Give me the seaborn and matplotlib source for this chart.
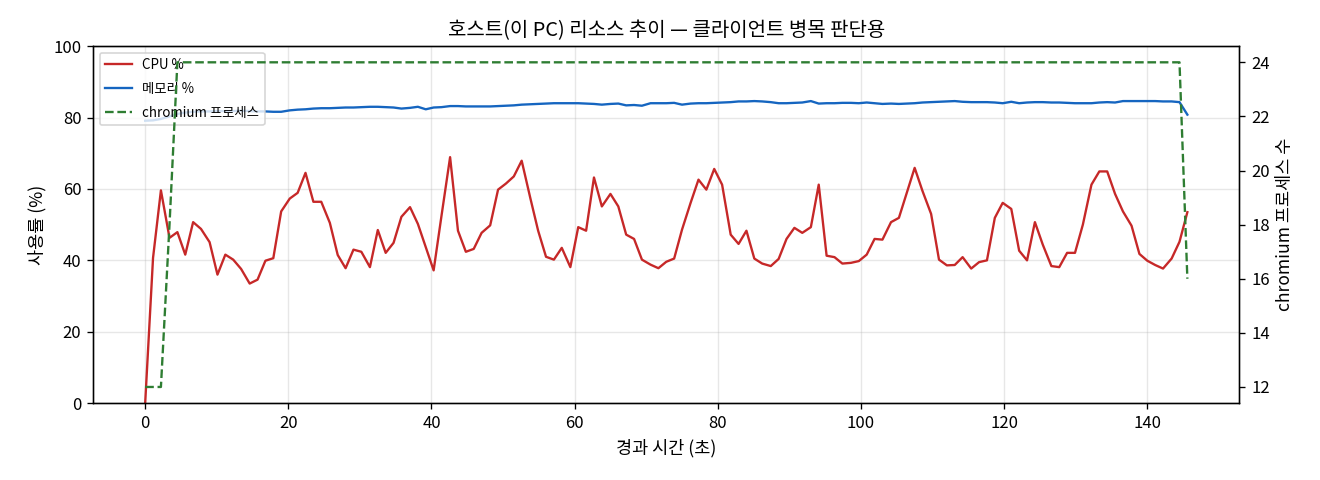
import numpy as np
import pandas as pd
import matplotlib
matplotlib.use("Agg")
import matplotlib.pyplot as plt
import seaborn as sns

# === Daten ===
elapsed_s = [
    0.0, 1.1, 2.2, 3.4, 4.5, 5.6, 6.7, 7.8, 9.0, 10.1,
    11.2, 12.3, 13.4, 14.6, 15.7, 16.8, 17.9, 19.0, 20.2, 21.3,
    22.4, 23.5, 24.6, 25.8, 26.9, 28.0, 29.1, 30.2, 31.4, 32.5,
    33.6, 34.7, 35.8, 37.0, 38.1, 39.2, 40.3, 41.4, 42.6, 43.7,
    44.8, 45.9, 47.0, 48.2, 49.3, 50.4, 51.5, 52.6, 53.8, 54.9,
    56.0, 57.1, 58.2, 59.4, 60.5, 61.6, 62.7, 63.8, 65.0, 66.1,
    67.2, 68.3, 69.4, 70.6, 71.7, 72.8, 73.9, 75.0, 76.2, 77.3,
    78.4, 79.5, 80.6, 81.8, 82.9, 84.0, 85.1, 86.2, 87.4, 88.5,
    89.6, 90.7, 91.8, 93.0, 94.1, 95.2, 96.3, 97.4, 98.6, 99.7,
    100.8, 101.9, 103.0, 104.2, 105.3, 106.4, 107.5, 108.6, 109.8, 110.9,
    112.0, 113.1, 114.2, 115.4, 116.5, 117.6, 118.7, 119.8, 121.0, 122.1,
    123.2, 124.3, 125.4, 126.6, 127.7, 128.8, 129.9, 131.0, 132.2, 133.3,
    134.4, 135.5, 136.6, 137.8, 138.9, 140.0, 141.1, 142.2, 143.4, 144.5,
    145.6,
]

cpu_pct = [
    0.0, 40.7, 59.6, 46.3, 47.9, 41.6, 50.7, 48.8, 45.1, 36.0,
    41.6, 40.2, 37.6, 33.5, 34.6, 39.9, 40.6, 53.7, 57.3, 58.9,
    64.5, 56.4, 56.4, 50.5, 41.5, 37.8, 43.0, 42.4, 38.1, 48.5,
    42.1, 44.9, 52.2, 54.9, 50.2, 43.7, 37.2, 52.5, 68.9, 48.3,
    42.4, 43.2, 47.7, 49.8, 59.8, 61.5, 63.5, 67.9, 57.5, 48.3,
    41.0, 40.2, 43.5, 38.1, 49.3, 48.3, 63.2, 55.1, 58.6, 55.1,
    47.2, 46.0, 40.2, 38.8, 37.8, 39.6, 40.5, 48.6, 56.1, 62.6,
    59.8, 65.6, 61.2, 47.2, 44.6, 48.3, 40.5, 39.1, 38.4, 40.4,
    46.0, 49.1, 47.7, 49.3, 61.2, 41.3, 40.9, 39.1, 39.3, 39.8,
    41.6, 46.0, 45.8, 50.7, 51.9, 58.9, 65.9, 59.4, 53.0, 40.2,
    38.6, 38.7, 40.9, 37.7, 39.5, 40.0, 51.9, 56.1, 54.4, 42.7,
    40.0, 50.7, 44.4, 38.4, 38.1, 42.1, 42.1, 50.0, 61.2, 64.9,
    64.9, 58.6, 53.7, 49.7, 41.8, 39.9, 38.7, 37.7, 40.5, 45.2,
    53.5,
]

mem_pct = [
    79.1, 79.2, 79.6, 80.3, 81.0, 81.4, 81.6, 81.7, 81.7, 81.8,
    81.8, 81.8, 81.9, 81.8, 81.7, 81.7, 81.6, 81.6, 82.0, 82.2,
    82.3, 82.5, 82.6, 82.6, 82.7, 82.8, 82.8, 82.9, 83.0, 83.0,
    82.9, 82.8, 82.5, 82.7, 83.0, 82.3, 82.8, 82.9, 83.2, 83.2,
    83.1, 83.1, 83.1, 83.1, 83.2, 83.3, 83.4, 83.6, 83.7, 83.8,
    83.9, 84.0, 84.0, 84.0, 84.0, 83.9, 83.8, 83.6, 83.8, 83.9,
    83.4, 83.5, 83.3, 84.0, 84.0, 84.0, 84.1, 83.6, 83.9, 84.0,
    84.0, 84.1, 84.2, 84.3, 84.5, 84.5, 84.6, 84.5, 84.3, 84.0,
    84.0, 84.1, 84.2, 84.6, 83.9, 84.0, 84.0, 84.1, 84.1, 84.0,
    84.2, 84.0, 83.8, 83.9, 83.8, 83.9, 84.0, 84.2, 84.3, 84.4,
    84.5, 84.6, 84.4, 84.3, 84.3, 84.3, 84.2, 84.0, 84.4, 84.0,
    84.2, 84.3, 84.3, 84.2, 84.2, 84.1, 84.0, 84.0, 84.0, 84.2,
    84.3, 84.2, 84.6, 84.6, 84.6, 84.6, 84.6, 84.5, 84.5, 84.3,
    80.8,
]

chromium_count = [12, 12, 12, 18] + [24] * 126 + [16]

df = pd.DataFrame({
    "t": elapsed_s,
    "cpu": cpu_pct,
    "mem": mem_pct,
    "proc": chromium_count,
})

# === Plot ===
plt.rcParams["font.family"] = ["Noto Sans CJK KR", "DejaVu Sans"]
plt.rcParams["axes.unicode_minus"] = False

fig, ax = plt.subplots(figsize=(11, 4), dpi=120)
sns.lineplot(data=df, x="t", y="cpu", ax=ax, color="#c62828", linewidth=1.4, label="CPU %")
sns.lineplot(data=df, x="t", y="mem", ax=ax, color="#1565c0", linewidth=1.4, label="메모리 %")
ax.set_ylim(0, 100)
ax.set_xlabel("경과 시간 (초)", fontsize=10.5)
ax.set_ylabel("사용률 (%)", fontsize=10.5)
ax.grid(True, alpha=0.3)
ax.set_title("호스트(이 PC) 리소스 추이 — 클라이언트 병목 판단용", fontsize=12)

ax2 = ax.twinx()
sns.lineplot(data=df, x="t", y="proc", ax=ax2, color="#2e7d32", linewidth=1.4,
             linestyle="--", label="chromium 프로세스")
ax2.set_ylabel("chromium 프로세스 수", fontsize=10.5)
ax2.set_yticks([12, 14, 16, 18, 20, 22, 24])

h1, l1 = ax.get_legend_handles_labels()
h2, l2 = ax2.get_legend_handles_labels()
ax2.get_legend().remove()
ax.legend(h1 + h2, l1 + l2, loc="upper left", fontsize=8, labelspacing=0.75)

plt.subplots_adjust(left=0.0705, right=0.939, top=0.904, bottom=0.16)
plt.savefig("out.png")
